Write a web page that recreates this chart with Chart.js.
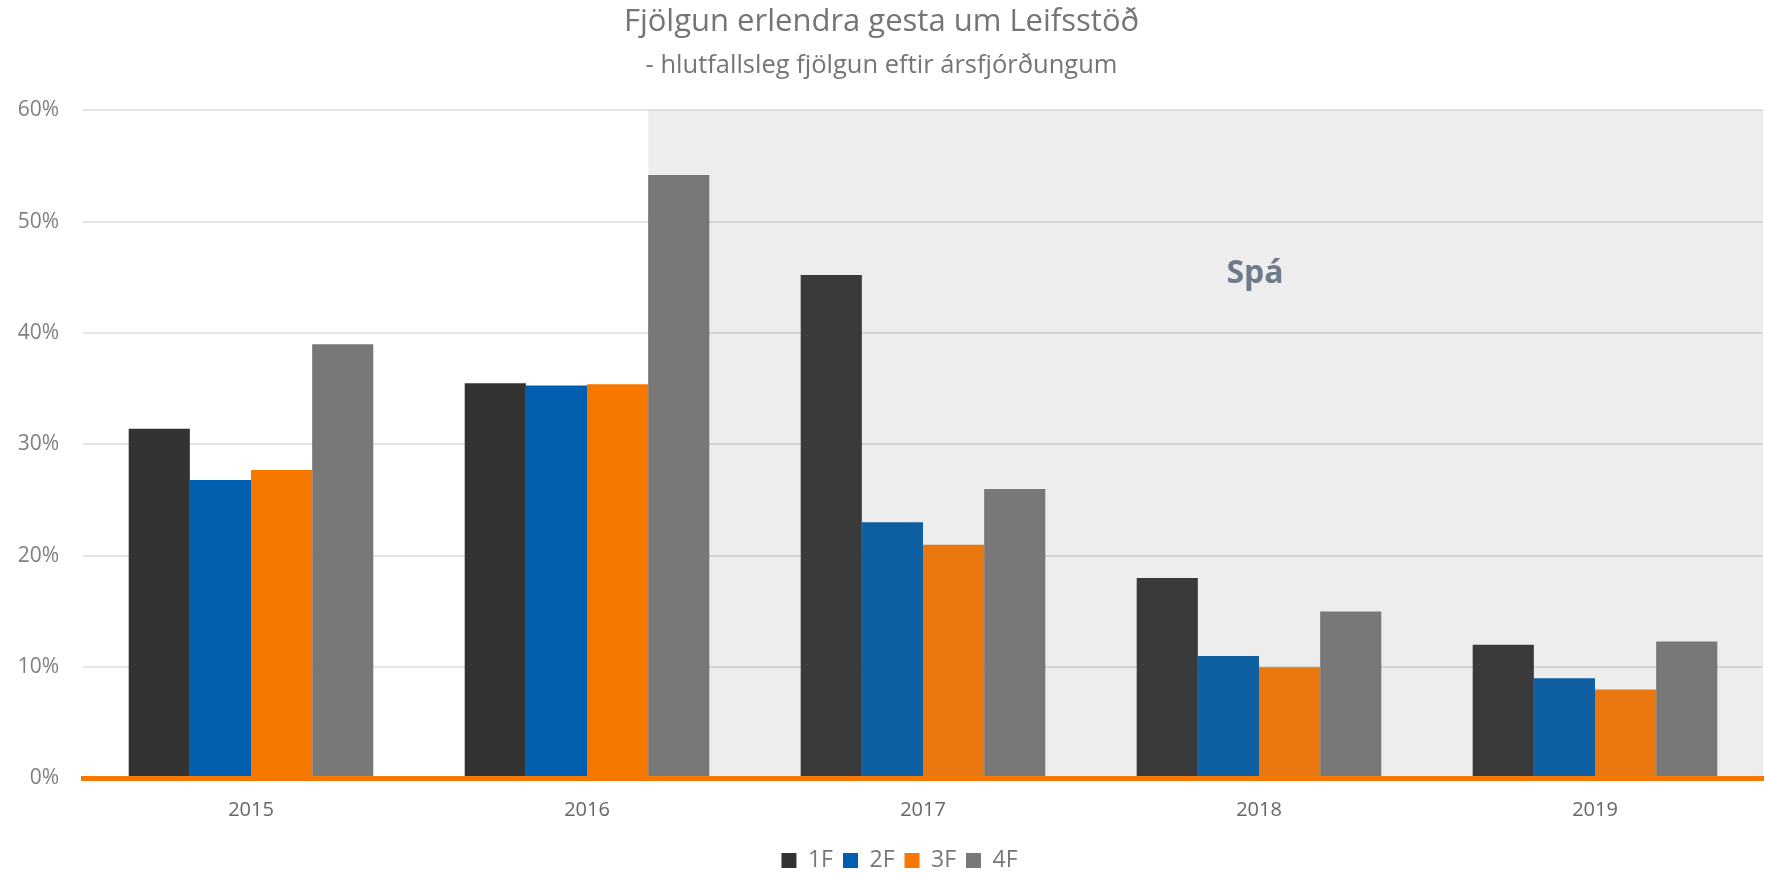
<!DOCTYPE html>
<html>
<head>
<meta charset="utf-8">
<script src="https://cdn.jsdelivr.net/npm/chart.js@4/dist/chart.umd.min.js"></script>
<style>
  html, body { margin: 0; padding: 0; background: #ffffff; }
  #wrap { width: 1765px; height: 873px; }
</style>
</head>
<body>
<div id="wrap"><canvas id="c" width="1765" height="873"></canvas></div>
<script>
const years = ['2015', '2016', '2017', '2018', '2019'];
const q1 = [31.4, 35.5, 45.2, 18.0, 12.0];
const q2 = [26.8, 35.3, 23.0, 11.0, 9.0];
const q3 = [27.7, 35.4, 21.0, 10.0, 8.0];
const q4 = [39.0, 54.2, 26.0, 15.0, 12.3];
const seriesNames = ['1F', '2F', '3F', '4F'];
const yTicks = [0, 10, 20, 30, 40, 50, 60];
const titleText = 'Fjölgun erlendra gesta um Leifsstöð';
const subtitleText = '- hlutfallsleg fjölgun eftir ársfjórðungum';
const forecastLabel = 'Spá';
const forecastLabelValue = 45.3;

const c1 = ['#333333', '#333333', '#3A3A3A', '#3A3A3A', '#3A3A3A'];
const c2 = ['#005FAF', '#005FAF', '#0F5FA3', '#0F5FA3', '#0F5FA3'];
const c3 = ['#F77800', '#F77800', '#E8770E', '#E8770E', '#E8770E'];
const c4 = '#787878';

const shadePlugin = {
  id: 'shade',
  afterLayout(chart) {
    if (chart.legend) { chart.legend.left += 18; chart.legend.right += 18; }
  },
  beforeDraw(chart) {
    const meta = chart.getDatasetMeta(3);
    const bar = meta.data[1];
    if (!bar) return;
    const y = chart.scales.y;
    const ca = chart.chartArea;
    const x0 = bar.x - bar.width / 2;
    const ctx = chart.ctx;
    ctx.save();
    ctx.fillStyle = '#EDEDED';
    ctx.fillRect(x0, y.getPixelForValue(60), ca.right - x0, y.getPixelForValue(0) - y.getPixelForValue(60));
    ctx.restore();
  },
  afterDatasetsDraw(chart) {
    const x = chart.scales.x.getPixelForValue(3);
    const y = chart.scales.y.getPixelForValue(forecastLabelValue);
    const ctx = chart.ctx;
    ctx.save();
    ctx.font = 'bold 32px "Open Sans", sans-serif';
    ctx.fillStyle = '#6E7B8A';
    ctx.textAlign = 'center';
    ctx.textBaseline = 'middle';
    ctx.fillText(forecastLabel, x - 4, y);
    ctx.restore();
  }
};

new Chart(document.getElementById('c'), {
  type: 'bar',
  data: {
    labels: years,
    datasets: [
      { label: seriesNames[0], data: q1, backgroundColor: c1 },
      { label: seriesNames[1], data: q2, backgroundColor: c2 },
      { label: seriesNames[2], data: q3, backgroundColor: c3 },
      { label: seriesNames[3], data: q4, backgroundColor: c4 }
    ]
  },
  options: {
    responsive: false,
    animation: false,
    maintainAspectRatio: false,
    layout: { padding: { left: 0, right: 2, top: 0, bottom: -9 } },
    datasets: { bar: { categoryPercentage: 0.728, barPercentage: 1.0, borderWidth: 0 } },
    scales: {
      x: {
        afterFit(scale) { scale.height = 60.5; },
        grid: { display: false, drawTicks: false },
        border: { display: true, color: '#F77800', width: 5, z: 1 },
        ticks: { color: '#666666', padding: 20, font: { family: '"Open Sans", sans-serif', size: 20 } }
      },
      y: {
        min: 0, max: 60,
        afterBuildTicks(scale) { scale.ticks = yTicks.map(v => ({ value: v })); },
        afterFit(scale) { scale.width = 83; },
        grid: { color: 'rgba(0,0,0,0.1)', lineWidth: 2, drawTicks: false },
        border: { display: false },
        ticks: {
          color: '#808080', padding: 24,
          font: { family: '"Open Sans", sans-serif', size: 21 },
          callback: v => v + '%'
        }
      }
    },
    plugins: {
      title: {
        display: true, text: titleText, color: '#757575',
        font: { family: '"Open Sans", sans-serif', size: 31, weight: 'normal', lineHeight: 1.2 },
        padding: { top: 3.5, bottom: 0 }
      },
      subtitle: {
        display: true, text: subtitleText, color: '#757575',
        font: { family: '"Open Sans", sans-serif', size: 25.5, weight: 'normal', lineHeight: 1.2 },
        padding: { top: 10, bottom: 29 }
      },
      legend: {
        position: 'bottom',
        labels: {
          boxWidth: 15, boxHeight: 15, padding: 10, color: '#777777',
          font: { family: '"Open Sans", sans-serif', size: 23 }
        }
      },
      tooltip: { enabled: false }
    }
  },
  plugins: [shadePlugin]
});
</script>
</body>
</html>
